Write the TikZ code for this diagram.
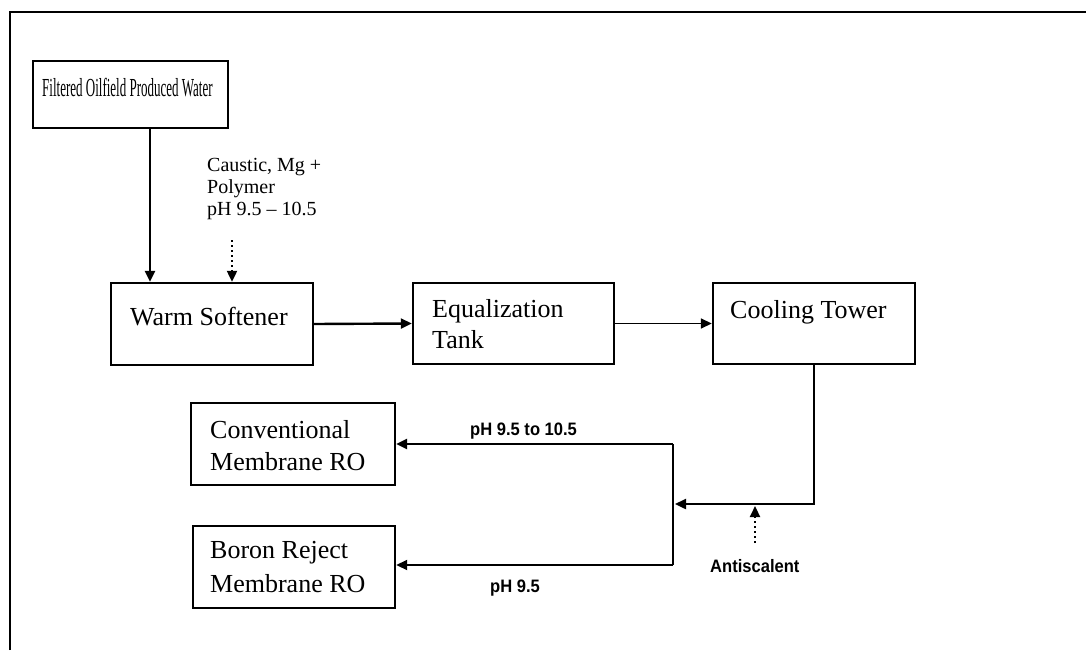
\documentclass[tikz,border=0pt]{standalone}
\usepackage{fontspec}
\setmainfont{Liberation Serif}
\newfontfamily\sansf{Liberation Sans}
\usetikzlibrary{arrows.meta,calc}
\tikzset{
  boxtxt/.style={anchor=base west, inner sep=0pt, font=\fontsize{26}{30}\selectfont},
  smalltxt/.style={anchor=base west, inner sep=0pt, font=\fontsize{20}{22}\selectfont},
  sanstxt/.style={anchor=base west, inner sep=0pt, font=\sansf\bfseries\fontsize{18}{22}\selectfont},
  arr/.style={line width=2.4pt, -{Triangle[length=11pt,width=10pt]}},
  dotarr/.style={line width=2.2pt, dash pattern=on 2pt off 3pt, -{Triangle[length=11pt,width=10pt]}},
  plainline/.style={line width=2.2pt},
  boxstyle/.style={draw, line width=2.4pt, inner sep=0pt}
}
\begin{document}
\begin{tikzpicture}[x=1pt,y=-1pt]
\useasboundingbox (0,0) rectangle (1086,650);
% frame
\draw[line width=2pt] (10,650) -- (10,12) -- (1086,12);

% boxes
\node[boxstyle, minimum width=195pt, minimum height=67pt] (filt) at (130.5,94.5) {};
\node[boxstyle, minimum width=202pt, minimum height=82pt] (warm) at (212,324) {};
\node[boxstyle, minimum width=201pt, minimum height=81pt] (equal) at (513.5,323.5) {};
\node[boxstyle, minimum width=202pt, minimum height=81pt] (cool) at (814,323.5) {};
\node[boxstyle, minimum width=204pt, minimum height=82pt] (conv) at (293,444) {};
\node[boxstyle, minimum width=202pt, minimum height=82pt] (boron) at (294,567) {};

% box texts
\node[boxtxt] (tfilt) at (42,97) {\scalebox{0.5}[1]{Filtered Oilfield Produced Water}};
\node[boxtxt] (twarm) at (130,325) {Warm Softener};
\node[boxtxt] (teq1) at (432,317) {Equalization};
\node[boxtxt] (teq2) at (432,348) {Tank};
\node[boxtxt] (tcool) at (730,318) {Cooling Tower};
\node[boxtxt] (tconv1) at (210,438) {Conventional};
\node[boxtxt] (tconv2) at (210,470) {Membrane RO};
\node[boxtxt] (tbor1) at (210,558) {Boron Reject};
\node[boxtxt] (tbor2) at (210,592) {Membrane RO};

% labels
\node[smalltxt] (lc1) at (207,171) {Caustic, Mg +};
\node[smalltxt] (lc2) at (207,193) {Polymer};
\node[smalltxt] (lc3) at (207,215) {pH 9.5 -- 10.5};
\node[sanstxt] (lph1) at (470,435) {\scalebox{0.92}[1]{pH 9.5 to 10.5}};
\node[sanstxt] (lph2) at (490,592) {\scalebox{0.92}[1]{pH 9.5}};
\node[sanstxt] (lanti) at (710,572) {\scalebox{0.92}[1]{Antiscalent}};

% connectors
\coordinate (f1) at (150,128);
\draw[arr, line width=2.8pt] (f1) -- (f1 |- warm.north);
\coordinate (c1) at (232,240);
\draw[dotarr] (c1) -- (c1 |- warm.north);
\draw[arr] (warm.east) -- (equal.west);
\draw[arr, line width=1.6pt] (equal.east) -- (cool.west);
\coordinate (j) at (675,504);
\draw[arr] (cool.south) |- (j);
\coordinate (jt) at (673,444);
\coordinate (jb) at (673,565);
\draw[plainline] (jt) -- (jb);
\draw[arr] (jt) -- (jt -| conv.east);
\draw[arr, line width=1.8pt] (jb) -- (jb -| boron.east);
\coordinate (a1) at (755,543);
\coordinate (a2) at (755,506);
\draw[dotarr] (a1) -- (a2);
\end{tikzpicture}
\end{document}
